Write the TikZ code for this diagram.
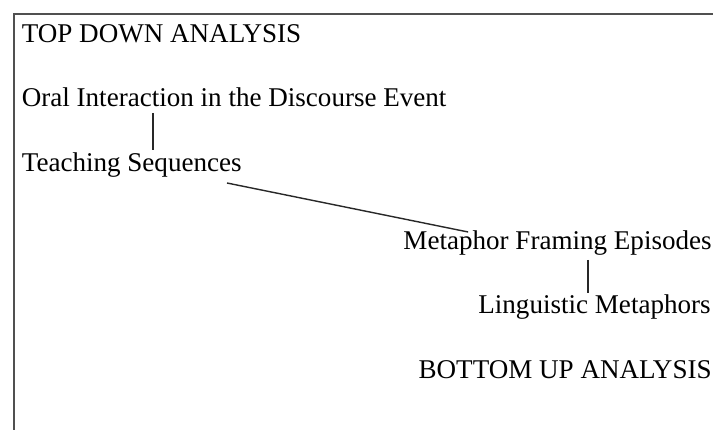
\documentclass[tikz,border=0pt]{standalone}
\usepackage{fontspec}
\setmainfont{Liberation Serif}
\usepackage{tikz}
\usepackage{xcolor}
\definecolor{framegray}{RGB}{80,80,80}
\definecolor{linkgray}{RGB}{40,40,40}

\begin{document}
\begin{tikzpicture}
    % Fix the page size to the reference proportions
    \useasboundingbox (0,0) rectangle (14.26,8.6);

    % Styles for the levels and the links between them
    \tikzset{
        level/.style={inner sep=0pt, font=\fontsize{15.4}{18}\selectfont},
        link/.style={linkgray, line width=0.8pt}
    }

    % Open frame (top and left edges only)
    \draw[framegray, line width=1.1pt] (14.26,8.32) -- (0.28,8.32) -- (0.28,0);

    % Top-down levels, left aligned
    \node[level, anchor=base west] (topdown) at (0.43,7.74) {TOP DOWN ANALYSIS};
    \node[level, anchor=base west] (oral) at (0.43,6.46) {Oral Interaction in the Discourse Event};
    \node[level, anchor=base west] (teaching) at (0.43,5.16) {Teaching Sequences};

    % Bottom-up levels, right aligned
    \node[level, anchor=base east] (framing) at (14.24,3.6) {Metaphor Framing Episodes};
    \node[level, anchor=base east] (linguistic) at (14.22,2.32) {Linguistic Metaphors};
    \node[level, anchor=base east] (bottomup) at (14.24,1.04) {BOTTOM UP ANALYSIS};

    % Points where the links meet the text lines
    \coordinate (upperjoin) at (3.06,0);
    \coordinate (lowerjoin) at (11.76,0);

    % Links between the levels
    \draw[link] ([yshift=-0.12cm]oral.base -| upperjoin) -- ([yshift=0.44cm]teaching.base -| upperjoin);
    \draw[link] ([xshift=-0.3cm,yshift=-0.22cm]teaching.base east) -- ([xshift=1.3cm,yshift=0.36cm]framing.base west);
    \draw[link] ([yshift=-0.2cm]framing.base -| lowerjoin) -- ([yshift=0.42cm]linguistic.base -| lowerjoin);
\end{tikzpicture}
\end{document}
